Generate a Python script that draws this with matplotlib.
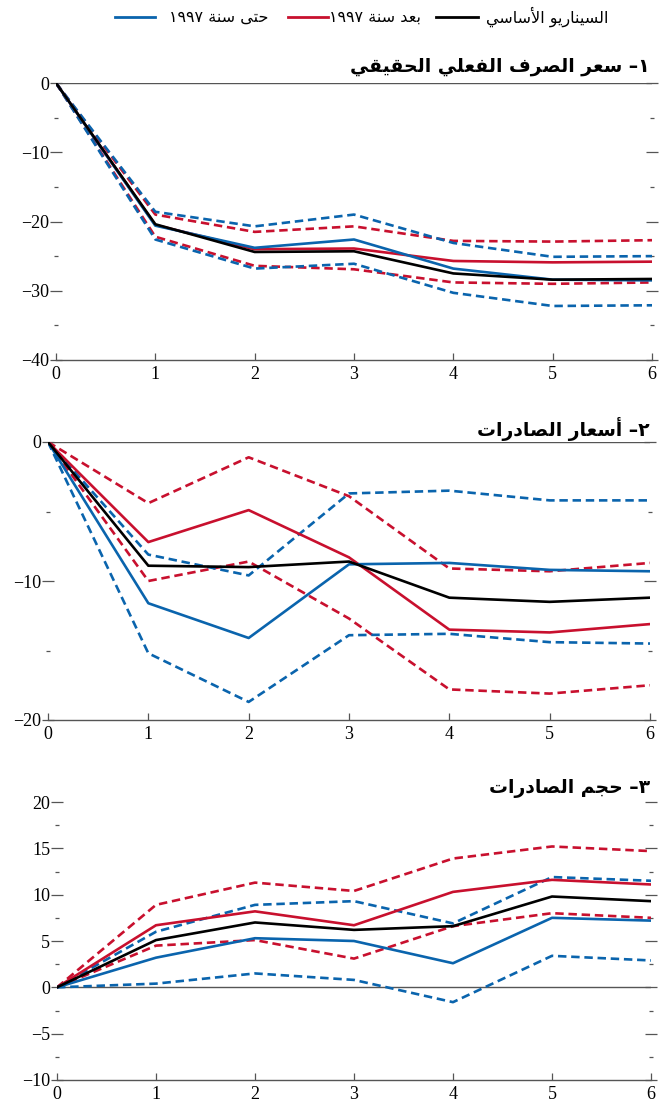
import matplotlib
matplotlib.use("Agg")
import matplotlib.pyplot as plt
from matplotlib.lines import Line2D
from matplotlib.ticker import MultipleLocator, FixedLocator, FuncFormatter

# ---------------------------------------------------------------- data
years = [0, 1, 2, 3, 4, 5, 6]

# 1- real effective exchange rate
reer_base = [0, -20.4, -24.4, -24.3, -27.5, -28.4, -28.3]
reer_after = [0, -20.5, -24.0, -23.9, -25.7, -25.9, -25.8]
reer_after_hi = [0, -19.0, -21.5, -20.7, -22.8, -22.9, -22.7]
reer_after_lo = [0, -22.2, -26.4, -26.9, -28.8, -29.0, -28.8]
reer_until = [0, -20.6, -23.8, -22.6, -26.8, -28.4, -28.5]
reer_until_hi = [0, -18.6, -20.7, -19.0, -23.1, -25.1, -25.0]
reer_until_lo = [0, -22.6, -26.8, -26.1, -30.3, -32.2, -32.1]

# 2- export prices
xp_base = [0, -8.9, -9.0, -8.6, -11.2, -11.5, -11.2]
xp_after = [0, -7.2, -4.9, -8.3, -13.5, -13.7, -13.1]
xp_after_hi = [0, -4.4, -1.1, -3.9, -9.1, -9.3, -8.7]
xp_after_lo = [0, -10.0, -8.6, -12.7, -17.8, -18.1, -17.5]
xp_until = [0, -11.6, -14.1, -8.8, -8.7, -9.2, -9.3]
xp_until_hi = [0, -8.1, -9.6, -3.7, -3.5, -4.2, -4.2]
xp_until_lo = [0, -15.2, -18.7, -13.9, -13.8, -14.4, -14.5]

# 3- export volume
xv_base = [0, 5.1, 7.0, 6.2, 6.6, 9.8, 9.3]
xv_after = [0, 6.7, 8.2, 6.7, 10.3, 11.6, 11.1]
xv_after_hi = [0, 8.9, 11.3, 10.4, 13.9, 15.2, 14.7]
xv_after_lo = [0, 4.5, 5.1, 3.1, 6.6, 8.0, 7.5]
xv_until = [0, 3.2, 5.3, 5.0, 2.6, 7.5, 7.2]
xv_until_hi = [0, 6.0, 8.9, 9.3, 6.9, 11.9, 11.5]
xv_until_lo = [0, 0.4, 1.5, 0.8, -1.6, 3.4, 2.9]

titles = ["١– سعر الصرف الفعلي الحقيقي", "٢– أسعار الصادرات", "٣– حجم الصادرات"]
legend_labels = ["السيناريو الأساسي", "بعد سنة ١٩٩٧", "حتى سنة ١٩٩٧"]

# ------------------------------------------------- Arabic text shaping
_FORMS = {
    "ء": (0xFE80,), "آ": (0xFE81, 0xFE82), "أ": (0xFE83, 0xFE84),
    "ؤ": (0xFE85, 0xFE86), "إ": (0xFE87, 0xFE88),
    "ئ": (0xFE89, 0xFE8A, 0xFE8B, 0xFE8C), "ا": (0xFE8D, 0xFE8E),
    "ب": (0xFE8F, 0xFE90, 0xFE91, 0xFE92), "ة": (0xFE93, 0xFE94),
    "ت": (0xFE95, 0xFE96, 0xFE97, 0xFE98), "ث": (0xFE99, 0xFE9A, 0xFE9B, 0xFE9C),
    "ج": (0xFE9D, 0xFE9E, 0xFE9F, 0xFEA0), "ح": (0xFEA1, 0xFEA2, 0xFEA3, 0xFEA4),
    "خ": (0xFEA5, 0xFEA6, 0xFEA7, 0xFEA8), "د": (0xFEA9, 0xFEAA),
    "ذ": (0xFEAB, 0xFEAC), "ر": (0xFEAD, 0xFEAE), "ز": (0xFEAF, 0xFEB0),
    "س": (0xFEB1, 0xFEB2, 0xFEB3, 0xFEB4), "ش": (0xFEB5, 0xFEB6, 0xFEB7, 0xFEB8),
    "ص": (0xFEB9, 0xFEBA, 0xFEBB, 0xFEBC), "ض": (0xFEBD, 0xFEBE, 0xFEBF, 0xFEC0),
    "ط": (0xFEC1, 0xFEC2, 0xFEC3, 0xFEC4), "ظ": (0xFEC5, 0xFEC6, 0xFEC7, 0xFEC8),
    "ع": (0xFEC9, 0xFECA, 0xFECB, 0xFECC), "غ": (0xFECD, 0xFECE, 0xFECF, 0xFED0),
    "ف": (0xFED1, 0xFED2, 0xFED3, 0xFED4), "ق": (0xFED5, 0xFED6, 0xFED7, 0xFED8),
    "ك": (0xFED9, 0xFEDA, 0xFEDB, 0xFEDC), "ل": (0xFEDD, 0xFEDE, 0xFEDF, 0xFEE0),
    "م": (0xFEE1, 0xFEE2, 0xFEE3, 0xFEE4), "ن": (0xFEE5, 0xFEE6, 0xFEE7, 0xFEE8),
    "ه": (0xFEE9, 0xFEEA, 0xFEEB, 0xFEEC), "و": (0xFEED, 0xFEEE),
    "ى": (0xFEEF, 0xFEF0), "ي": (0xFEF1, 0xFEF2, 0xFEF3, 0xFEF4),
}
_LAM_ALEF = {"آ": (0xFEF5, 0xFEF6), "أ": (0xFEF7, 0xFEF8),
             "إ": (0xFEF9, 0xFEFA), "ا": (0xFEFB, 0xFEFC)}
_DIGITS = set("0123456789٠١٢٣٤٥٦٧٨٩")


def shape_arabic(text):
    # split into units, merging lam + alef into a single ligature
    units = []
    i = 0
    while i < len(text):
        ch = text[i]
        if ch == "ل" and i + 1 < len(text) and text[i + 1] in _LAM_ALEF:
            units.append(("lig", _LAM_ALEF[text[i + 1]]))
            i += 2
            continue
        if ch in _FORMS:
            units.append(("ar", _FORMS[ch]))
        else:
            units.append(("x", ch))
        i += 1

    def dual(u):
        return u[0] == "ar" and len(u[1]) == 4

    def arabic(u):
        return u[0] in ("ar", "lig")

    out = []
    for k, u in enumerate(units):
        if not arabic(u):
            out.append(u[1])
            continue
        forms = u[1]
        prev_joins = k > 0 and dual(units[k - 1])
        next_joins = (len(forms) == 4 and k + 1 < len(units)
                      and arabic(units[k + 1]))
        if len(forms) == 1:
            cp = forms[0]
        elif prev_joins and next_joins:
            cp = forms[3]
        elif prev_joins:
            cp = forms[1]
        elif next_joins:
            cp = forms[2]
        else:
            cp = forms[0]
        out.append(chr(cp))

    # visual order: reverse, keeping digit runs left-to-right
    runs, cur = [], ""
    for ch in out:
        if ch in _DIGITS:
            cur += ch
        else:
            if cur:
                runs.append(cur)
                cur = ""
            runs.append(ch)
    if cur:
        runs.append(cur)
    return "".join(reversed(runs))


# ---------------------------------------------------------------- style
BLUE = "#0a64ad"
RED = "#c8102e"
BLACK = "#000000"
GREY = "#555555"
LW = 1.9
DASH = (0, (3.2, 1.8))
AR_FONT = ["DejaVu Sans"]
NUM_FONT = "Liberation Serif"

plt.rcParams["font.family"] = NUM_FONT
plt.rcParams["axes.unicode_minus"] = True

fig = plt.figure(figsize=(6.7, 11.1), dpi=100)

W, H = 670.0, 1110.0


def box(x0, x6, ytop, ybot):
    return [x0 / W, 1 - ybot / H, (x6 - x0) / W, (ybot - ytop) / H]


panels = [
    dict(rect=box(56, 652, 83, 360), ylim=(-40, 0), major=10, minor=5,
         series=(reer_base, reer_after, reer_after_hi, reer_after_lo,
                 reer_until, reer_until_hi, reer_until_lo),
         title=titles[0], title_y=67),
    dict(rect=box(48, 650, 442, 720), ylim=(-20, 0), major=10, minor=5,
         series=(xp_base, xp_after, xp_after_hi, xp_after_lo,
                 xp_until, xp_until_hi, xp_until_lo),
         title=titles[1], title_y=429),
    dict(rect=box(57, 651, 802, 1080), ylim=(-10, 20), major=5, minor=2.5,
         series=(xv_base, xv_after, xv_after_hi, xv_after_lo,
                 xv_until, xv_until_hi, xv_until_lo),
         title=titles[2], title_y=789),
]

for p in panels:
    ax = fig.add_axes(p["rect"])
    base, after, after_hi, after_lo, until, until_hi, until_lo = p["series"]

    ax.axhline(0, color=GREY, lw=1.0, zorder=1)

    for s in (after_hi, after_lo):
        ax.plot(years, s, color=RED, lw=LW, linestyle=DASH, zorder=2)
    for s in (until_hi, until_lo):
        ax.plot(years, s, color=BLUE, lw=LW, linestyle=DASH, zorder=2)
    ax.plot(years, after, color=RED, lw=LW, zorder=3)
    ax.plot(years, until, color=BLUE, lw=LW, zorder=3)
    ax.plot(years, base, color=BLACK, lw=LW, zorder=4)

    ax.set_xlim(0, 6)
    ax.set_ylim(*p["ylim"])

    for side in ("top", "left", "right"):
        ax.spines[side].set_visible(False)
    ax.spines["bottom"].set_color(GREY)
    ax.spines["bottom"].set_linewidth(1.0)

    ax.xaxis.set_major_locator(FixedLocator(years))
    ax.tick_params(axis="x", direction="in", length=5, width=0.9,
                   color=GREY, pad=4, labelsize=13)

    ax.yaxis.set_major_locator(MultipleLocator(p["major"]))
    ax.yaxis.set_minor_locator(MultipleLocator(p["minor"]))
    ax.yaxis.set_major_formatter(
        FuncFormatter(lambda v, _: f"{v:.0f}".replace("-", "\u2212")))
    ax.tick_params(axis="y", which="major", direction="inout", length=8,
                   width=0.9, color=GREY, pad=1, labelsize=13,
                   left=True, right=True)
    ax.tick_params(axis="y", which="minor", direction="inout", length=3.5,
                   width=0.9, color=GREY, left=True, right=True)
    for lab in ax.get_xticklabels() + ax.get_yticklabels():
        lab.set_fontfamily(NUM_FONT)

    fig.text(650 / W, 1 - p["title_y"] / H, shape_arabic(p["title"]),
             ha="right", va="center", fontsize=13.5, fontweight="bold",
             family=AR_FONT)

# ---------------------------------------------------------------- legend
legend_items = [
    (legend_labels[0], BLACK, 608, (436, 478)),
    (legend_labels[1], RED, 421, (288, 328)),
    (legend_labels[2], BLUE, 268, (115, 155)),
]
ly = 1 - 17 / H
for label, color, x_right, (lx0, lx1) in legend_items:
    fig.text(x_right / W, ly, shape_arabic(label), ha="right", va="center",
             fontsize=11.5, family=AR_FONT)
    fig.add_artist(Line2D([lx0 / W, lx1 / W], [ly, ly], color=color, lw=2.0,
                          transform=fig.transFigure))

fig.savefig("out.png", dpi=100)
